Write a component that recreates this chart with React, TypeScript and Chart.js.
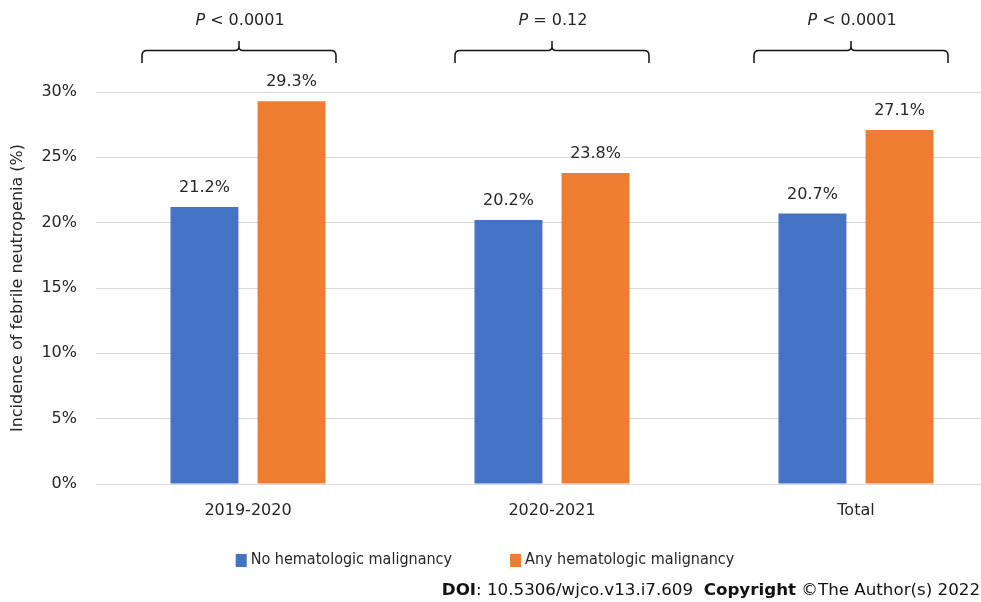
import React, { useEffect, useRef } from "react";
import { Chart, registerables } from "chart.js";
Chart.register(...registerables);

const categories = ["2019-2020", "2020-2021", "Total"];
const noHemValues = [21.2, 20.2, 20.7];
const anyHemValues = [29.3, 23.8, 27.1];
const seriesLabels = ["No hematologic malignancy", "Any hematologic malignancy"];
const seriesColors = ["#4472C4", "#ED7D31"];
const pOperators = ["<", "=", "<"];
const pValues = ["0.0001", "0.12", "0.0001"];
const bracketShift = [-9, 0, -5];
const yAxisTitle = "Incidence of febrile neutropenia (%)";
const footerParts: [string, boolean][] = [
  ["DOI", true],
  [": 10.5306/wjco.v13.i7.609  ", false],
  ["Copyright", true],
  [" \u00A9The Author(s) 2022", false],
];

const FONT = "'DejaVu Sans', Verdana, sans-serif";
const COND = "'DejaVu Sans Condensed', 'DejaVu Sans', sans-serif";
const TEXT = "#262626";

const overlayPlugin = {
  id: "overlay",
  afterDraw(chart: any) {
    const ctx = chart.ctx as CanvasRenderingContext2D;
    const xs = chart.scales.x;
    ctx.save();
    // value labels
    ctx.font = `16px ${FONT}`;
    ctx.fillStyle = TEXT;
    ctx.textAlign = "center";
    ctx.textBaseline = "alphabetic";
    chart.data.datasets.forEach((ds: any, di: number) => {
      const meta = chart.getDatasetMeta(di);
      meta.data.forEach((bar: any, i: number) => {
        ctx.fillText(`${Number(ds.data[i]).toFixed(1)}%`, bar.x, bar.y - 15);
      });
    });
    // brackets and p-values
    categories.forEach((_, i) => {
      const cx = xs.getPixelForValue(i) + bracketShift[i];
      const x0 = cx - 97;
      const x1 = cx + 97;
      const yTop = 50.5;
      const yTip = 63;
      const yPeak = 41;
      const r = 5;
      ctx.beginPath();
      ctx.strokeStyle = "#111";
      ctx.lineWidth = 1.5;
      ctx.moveTo(x0, yTip);
      ctx.lineTo(x0, yTop + r);
      ctx.quadraticCurveTo(x0, yTop, x0 + r, yTop);
      ctx.lineTo(cx - 4, yTop);
      ctx.quadraticCurveTo(cx, yTop, cx, yTop - 4);
      ctx.lineTo(cx, yPeak);
      ctx.moveTo(cx, yTop - 4);
      ctx.quadraticCurveTo(cx, yTop, cx + 4, yTop);
      ctx.lineTo(x1 - r, yTop);
      ctx.quadraticCurveTo(x1, yTop, x1, yTop + r);
      ctx.lineTo(x1, yTip);
      ctx.stroke();
      const rest = ` ${pOperators[i]} ${pValues[i]}`;
      ctx.font = `italic 16px ${FONT}`;
      const wP = ctx.measureText("P").width;
      ctx.font = `16px ${FONT}`;
      const wR = ctx.measureText(rest).width;
      const start = cx + 1 - (wP + wR) / 2;
      ctx.textAlign = "left";
      ctx.textBaseline = "middle";
      ctx.fillStyle = TEXT;
      ctx.font = `italic 16px ${FONT}`;
      ctx.fillText("P", start, 21);
      ctx.font = `16px ${FONT}`;
      ctx.fillText(rest, start + wP, 21);
    });
    // legend
    ctx.font = `16px ${COND}`;
    ctx.textBaseline = "middle";
    ctx.textAlign = "left";
    const gap = 58;
    const widths = seriesLabels.map((l) => 15 + ctx.measureText(l).width);
    const total = widths[0] + gap + widths[1];
    let lx = 485 - total / 2;
    const ly = 560;
    seriesLabels.forEach((l, i) => {
      ctx.fillStyle = seriesColors[i];
      ctx.fillRect(lx, ly - 6, 11, 13);
      ctx.fillStyle = TEXT;
      ctx.fillText(l, lx + 15, ly);
      lx += widths[i] + gap;
    });
    // footer
    let fw = 0;
    footerParts.forEach(([t, b]) => {
      ctx.font = `${b ? "bold " : ""}16.7px ${FONT}`;
      fw += ctx.measureText(t).width;
    });
    let fx = 980 - fw;
    ctx.fillStyle = "#111";
    footerParts.forEach(([t, b]) => {
      ctx.font = `${b ? "bold " : ""}16.7px ${FONT}`;
      ctx.fillText(t, fx, 591);
      fx += ctx.measureText(t).width;
    });
    ctx.restore();
  },
};

export default function App() {
  const ref = useRef<HTMLCanvasElement>(null);
  useEffect(() => {
    if (!ref.current) return;
    const chart = new Chart(ref.current, {
      type: "bar",
      data: {
        labels: categories,
        datasets: [
          { label: seriesLabels[0], data: noHemValues, backgroundColor: seriesColors[0] },
          { label: seriesLabels[1], data: anyHemValues, backgroundColor: seriesColors[1] },
        ],
      },
      options: {
        responsive: false,
        maintainAspectRatio: false,
        animation: false,
        devicePixelRatio: 1,
        layout: { padding: { top: 92, left: 0, right: 0, bottom: 0 } },
        datasets: { bar: { categoryPercentage: 0.573, barPercentage: 0.78 } },
        plugins: {
          legend: { display: false },
          tooltip: { enabled: false },
        },
        scales: {
          x: {
            grid: { display: false, drawTicks: false },
            border: { display: true, color: "#d9d9d9", width: 1 },
            ticks: { font: { family: FONT, size: 16 }, color: TEXT, padding: 17 },
            afterFit: (s: any) => {
              s.height = 118;
            },
          },
          y: {
            min: 0,
            max: 30,
            ticks: {
              stepSize: 5,
              callback: (v: any) => `${v}%`,
              font: { family: FONT, size: 16 },
              color: TEXT,
              padding: 19,
            },
            grid: { color: "#d9d9d9", drawTicks: false, lineWidth: 1 },
            border: { display: false },
            title: {
              display: true,
              text: yAxisTitle,
              font: { family: FONT, size: 16 },
              color: TEXT,
              padding: { top: 8, bottom: 0 },
            },
            afterFit: (s: any) => {
              s.width = 96;
            },
          },
        },
      },
      plugins: [overlayPlugin],
    } as any);
    return () => chart.destroy();
  }, []);
  return (
    <div
      style={{
        position: "fixed",
        left: 0,
        top: 0,
        width: 981,
        height: 602,
        overflow: "hidden",
        background: "#fff",
      }}
    >
      <canvas ref={ref} width={1008} height={602} style={{ width: 1008, height: 602, display: "block" }} />
    </div>
  );
}
